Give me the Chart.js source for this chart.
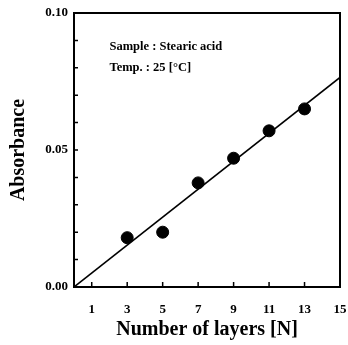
<!DOCTYPE html>
<html>
<head>
<meta charset="utf-8">
<script src="https://cdn.jsdelivr.net/npm/chart.js@4"></script>
<style>
  html, body { margin: 0; padding: 0; background: #fff; }
  #wrap { width: 348px; height: 345px; }
</style>
</head>
<body>
<div id="wrap"><canvas id="chart" width="348" height="345"></canvas></div>
<script>
// measured points
const layers = [3, 5, 7, 9, 11, 13];
const absorbance = [0.018, 0.020, 0.038, 0.047, 0.057, 0.065];
// fitted line (through origin)
const fitX = [0, 15];
const fitY = [0, 0.0765];
const xTickValues = [1, 3, 5, 7, 9, 11, 13, 15];
const yTickLabels = ['0.00', '0.05', '0.10'];
const noteLines = ['Sample : Stearic acid', 'Temp. : 25 [°C]'];

const serif = '"Liberation Serif", "Times New Roman", serif';

// frame, inward ticks and the note inside the plot
const framePlugin = {
    id: 'frame',
    afterDraw(chart) {
        const ctx = chart.ctx;
        const a = chart.chartArea;
        const xs = chart.scales.x, ys = chart.scales.y;
        ctx.save();
        ctx.strokeStyle = '#000';
        ctx.lineWidth = 2;
        ctx.strokeRect(a.left, a.top, a.right - a.left, a.bottom - a.top);
        ctx.lineWidth = 1.5;
        ctx.beginPath();
        xTickValues.forEach(v => {
            const px = xs.getPixelForValue(v);
            ctx.moveTo(px, a.bottom);
            ctx.lineTo(px, a.bottom - 5);
        });
        ys.ticks.forEach(t => {
            const py = ys.getPixelForValue(t.value);
            ctx.moveTo(a.left, py);
            ctx.lineTo(a.left + 4, py);
        });
        ctx.stroke();

        ctx.fillStyle = '#000';
        ctx.font = 'bold 12.5px ' + serif;
        ctx.textBaseline = 'middle';
        ctx.textAlign = 'left';
        const nx = xs.getPixelForValue(2.0);
        ctx.fillText(noteLines[0], nx, ys.getPixelForValue(0.0876));
        ctx.fillText(noteLines[1], nx, ys.getPixelForValue(0.0800));
        ctx.restore();
    }
};

new Chart(document.getElementById('chart'), {
    type: 'scatter',
    data: {
        datasets: [
            {
                label: 'fit',
                data: fitX.map((x, i) => ({ x: x, y: fitY[i] })),
                showLine: true,
                borderColor: '#000',
                borderWidth: 1.6,
                pointRadius: 0,
                fill: false
            },
            {
                label: 'data',
                data: layers.map((x, i) => ({ x: x, y: absorbance[i] })),
                backgroundColor: '#000',
                borderColor: '#000',
                pointRadius: 6,
                showLine: false
            }
        ]
    },
    options: {
        responsive: false,
        animation: false,
        layout: { padding: { left: 0, right: 8, top: 13, bottom: 0 } },
        plugins: {
            legend: { display: false },
            tooltip: { enabled: false }
        },
        scales: {
            x: {
                type: 'linear',
                min: 0,
                max: 15,
                afterBuildTicks: s => { s.ticks = xTickValues.map(v => ({ value: v })); },
                afterFit: s => {
                    s.height = 58;
                    s.paddingLeft = 0;
                    s.paddingRight = 0;
                },
                grid: { display: false, drawTicks: false },
                border: { display: false },
                ticks: {
                    color: '#000',
                    padding: 15,
                    maxRotation: 0,
                    font: { family: serif, size: 13, weight: 'bold' }
                },
                title: {
                    display: true,
                    text: 'Number of layers [N]',
                    color: '#000',
                    padding: { top: 0, bottom: 3 },
                    font: { family: serif, size: 20, weight: 'bold' }
                }
            },
            y: {
                type: 'linear',
                min: 0,
                max: 0.1,
                afterFit: s => {
                    s.width = 74;
                    s.paddingTop = 0;
                    s.paddingBottom = 0;
                },
                grid: { display: false, drawTicks: false },
                border: { display: false },
                ticks: {
                    stepSize: 0.01,
                    color: '#000',
                    padding: 6,
                    autoSkip: false,
                    font: { family: serif, size: 13, weight: 'bold' },
                    callback: v => {
                        const k = Math.round(v * 100);
                        return k % 5 === 0 ? yTickLabels[k / 5] : '';
                    }
                },
                title: {
                    display: true,
                    text: 'Absorbance',
                    color: '#000',
                    padding: { top: 7, bottom: 0 },
                    font: { family: serif, size: 20, weight: 'bold' }
                }
            }
        }
    },
    plugins: [framePlugin]
});
</script>
</body>
</html>
